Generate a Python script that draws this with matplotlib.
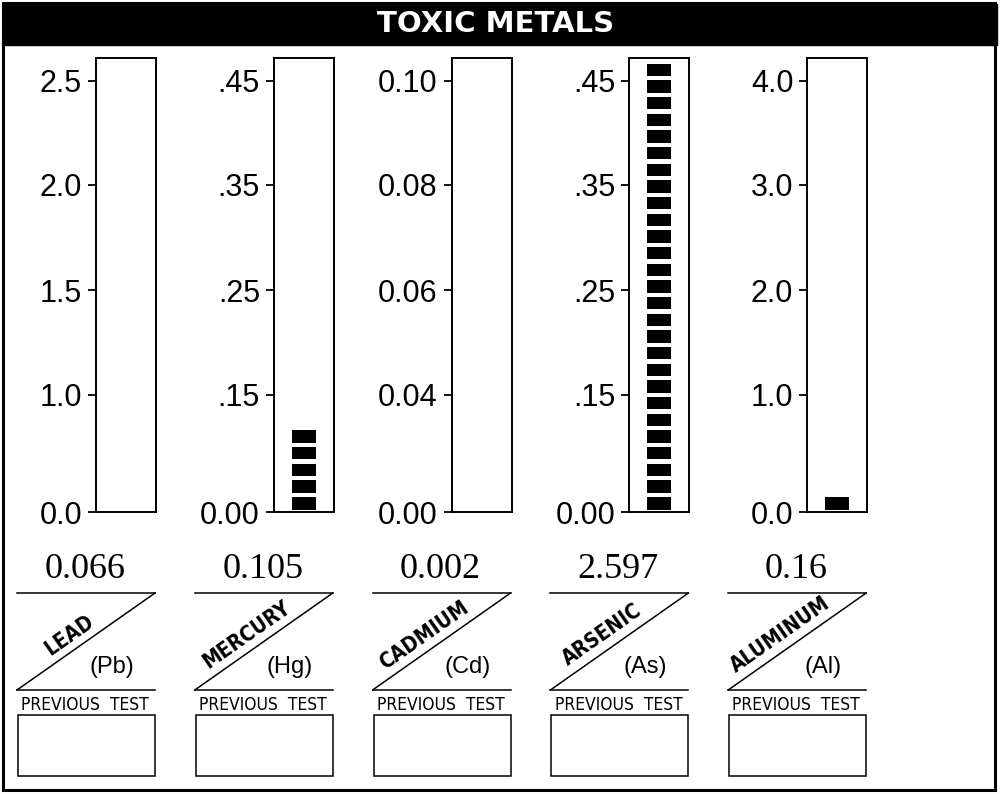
import numpy as np
import matplotlib
matplotlib.use('Agg')
import matplotlib.pyplot as plt
from matplotlib.patches import Rectangle

metals = ['LEAD', 'MERCURY', 'CADMIUM', 'ARSENIC', 'ALUMINUM']
symbols = ['(Pb)', '(Hg)', '(Cd)', '(As)', '(Al)']
results = [0.066, 0.105, 0.002, 2.597, 0.16]
result_labels = ['0.066', '0.105', '0.002', '2.597', '0.16']
tick_values = [[0, 1.0, 1.5, 2.0, 2.5],
               [0, .15, .25, .35, .45],
               [0, .04, .06, .08, .10],
               [0, .15, .25, .35, .45],
               [0, 1.0, 2.0, 3.0, 4.0]]
tick_labels = [['0.0', '1.0', '1.5', '2.0', '2.5'],
               ['0.00', '.15', '.25', '.35', '.45'],
               ['0.00', '0.04', '0.06', '0.08', '0.10'],
               ['0.00', '.15', '.25', '.35', '.45'],
               ['0.0', '1.0', '2.0', '3.0', '4.0']]

W, H = 1006, 794
sans = 'Liberation Sans'
serif = 'Liberation Serif'

# gauge geometry, pixels from the bottom of the box
tick_pos = [0, 117, 222, 327, 431]
box_h = 454
pitch = 16.67
block_h = 12.5


def make_scale(tv):
    # piecewise linear gauge scale: ticks are evenly spaced except the bottom one
    tv = np.asarray(tv, float)
    tp = np.asarray(tick_pos, float)
    s_lo = (tp[1] - tp[0]) / (tv[1] - tv[0])
    s_hi = (tp[-1] - tp[-2]) / (tv[-1] - tv[-2])

    def fwd(v):
        v = np.asarray(v, float)
        p = np.interp(v, tv, tp)
        p = np.where(v > tv[-1], tp[-1] + (v - tv[-1]) * s_hi, p)
        p = np.where(v < tv[0], tp[0] + (v - tv[0]) * s_lo, p)
        return p

    def inv(p):
        p = np.asarray(p, float)
        v = np.interp(p, tp, tv)
        v = np.where(p > tp[-1], tv[-1] + (p - tp[-1]) / s_hi, v)
        v = np.where(p < tp[0], tv[0] + (p - tp[0]) / s_lo, v)
        return v

    return fwd, inv


fig = plt.figure(figsize=(W / 100, H / 100), dpi=100)
ov = fig.add_axes([0, 0, 1, 1])
ov.set_xlim(0, W)
ov.set_ylim(H, 0)
ov.axis('off')

# frame and title bar
ov.add_patch(Rectangle((3.5, 3), 992, 787, fill=False, lw=2.2, ec='black'))
ov.add_patch(Rectangle((3, 4), 994, 41, color='black'))
ov.text(496, 24.5, 'TOXIC METALS', color='white', fontsize=21, fontweight='bold',
        family='DejaVu Sans', ha='center', va='center')

lw = 1.1
for i in range(len(metals)):
    pl = 17 + 177.8 * i

    # gauge
    ax = fig.add_axes([(pl + 79) / W, (H - 512) / H, 60 / W, box_h / H])
    fwd, inv = make_scale(tick_values[i])
    ax.set_yscale('function', functions=(fwd, inv))
    ax.set_ylim(0, float(inv(box_h)))
    ax.set_xlim(0, 1)
    ax.set_xticks([])
    ax.set_yticks(tick_values[i], tick_labels[i])
    ax.minorticks_off()
    ax.tick_params(axis='y', length=6, width=1.3, pad=4, labelsize=22)
    for lab in ax.get_yticklabels():
        lab.set_family(sans)
    for sp in ax.spines.values():
        sp.set_linewidth(1.4)

    h = min(float(fwd(results[i])), box_h)
    n = min(round(h / pitch), 27)
    for k in range(n):
        b = 2.5 + k * pitch
        t = b + block_h
        vb, vt = float(inv(b)), float(inv(t))
        ax.bar(0.5, vt - vb, bottom=vb, width=0.4, color='black')

    # result and label block
    ov.text(pl + 68, 578, result_labels[i], family=serif, fontsize=26,
            ha='center', va='baseline')
    ov.plot([pl, pl + 138], [593, 593], color='black', lw=lw)
    ov.plot([pl + 138, pl], [593, 690], color='black', lw=lw)
    ov.plot([pl, pl + 138], [690, 690], color='black', lw=lw)
    ov.text(pl + 52, 635, metals[i], family='DejaVu Sans', fontstretch='condensed',
            fontweight='bold', fontsize=15, rotation=35, rotation_mode='anchor',
            ha='center', va='center')
    ov.text(pl + 95, 667, symbols[i], family=sans, fontsize=17,
            ha='center', va='center')
    ov.text(pl + 68, 710, 'PREVIOUS  TEST', family='DejaVu Sans', fontstretch='condensed',
            fontsize=12.5, ha='center', va='baseline')
    ov.add_patch(Rectangle((pl + 1, 715), 137, 61, fill=False, lw=lw, ec='black'))

fig.savefig('out.png', dpi=100)
